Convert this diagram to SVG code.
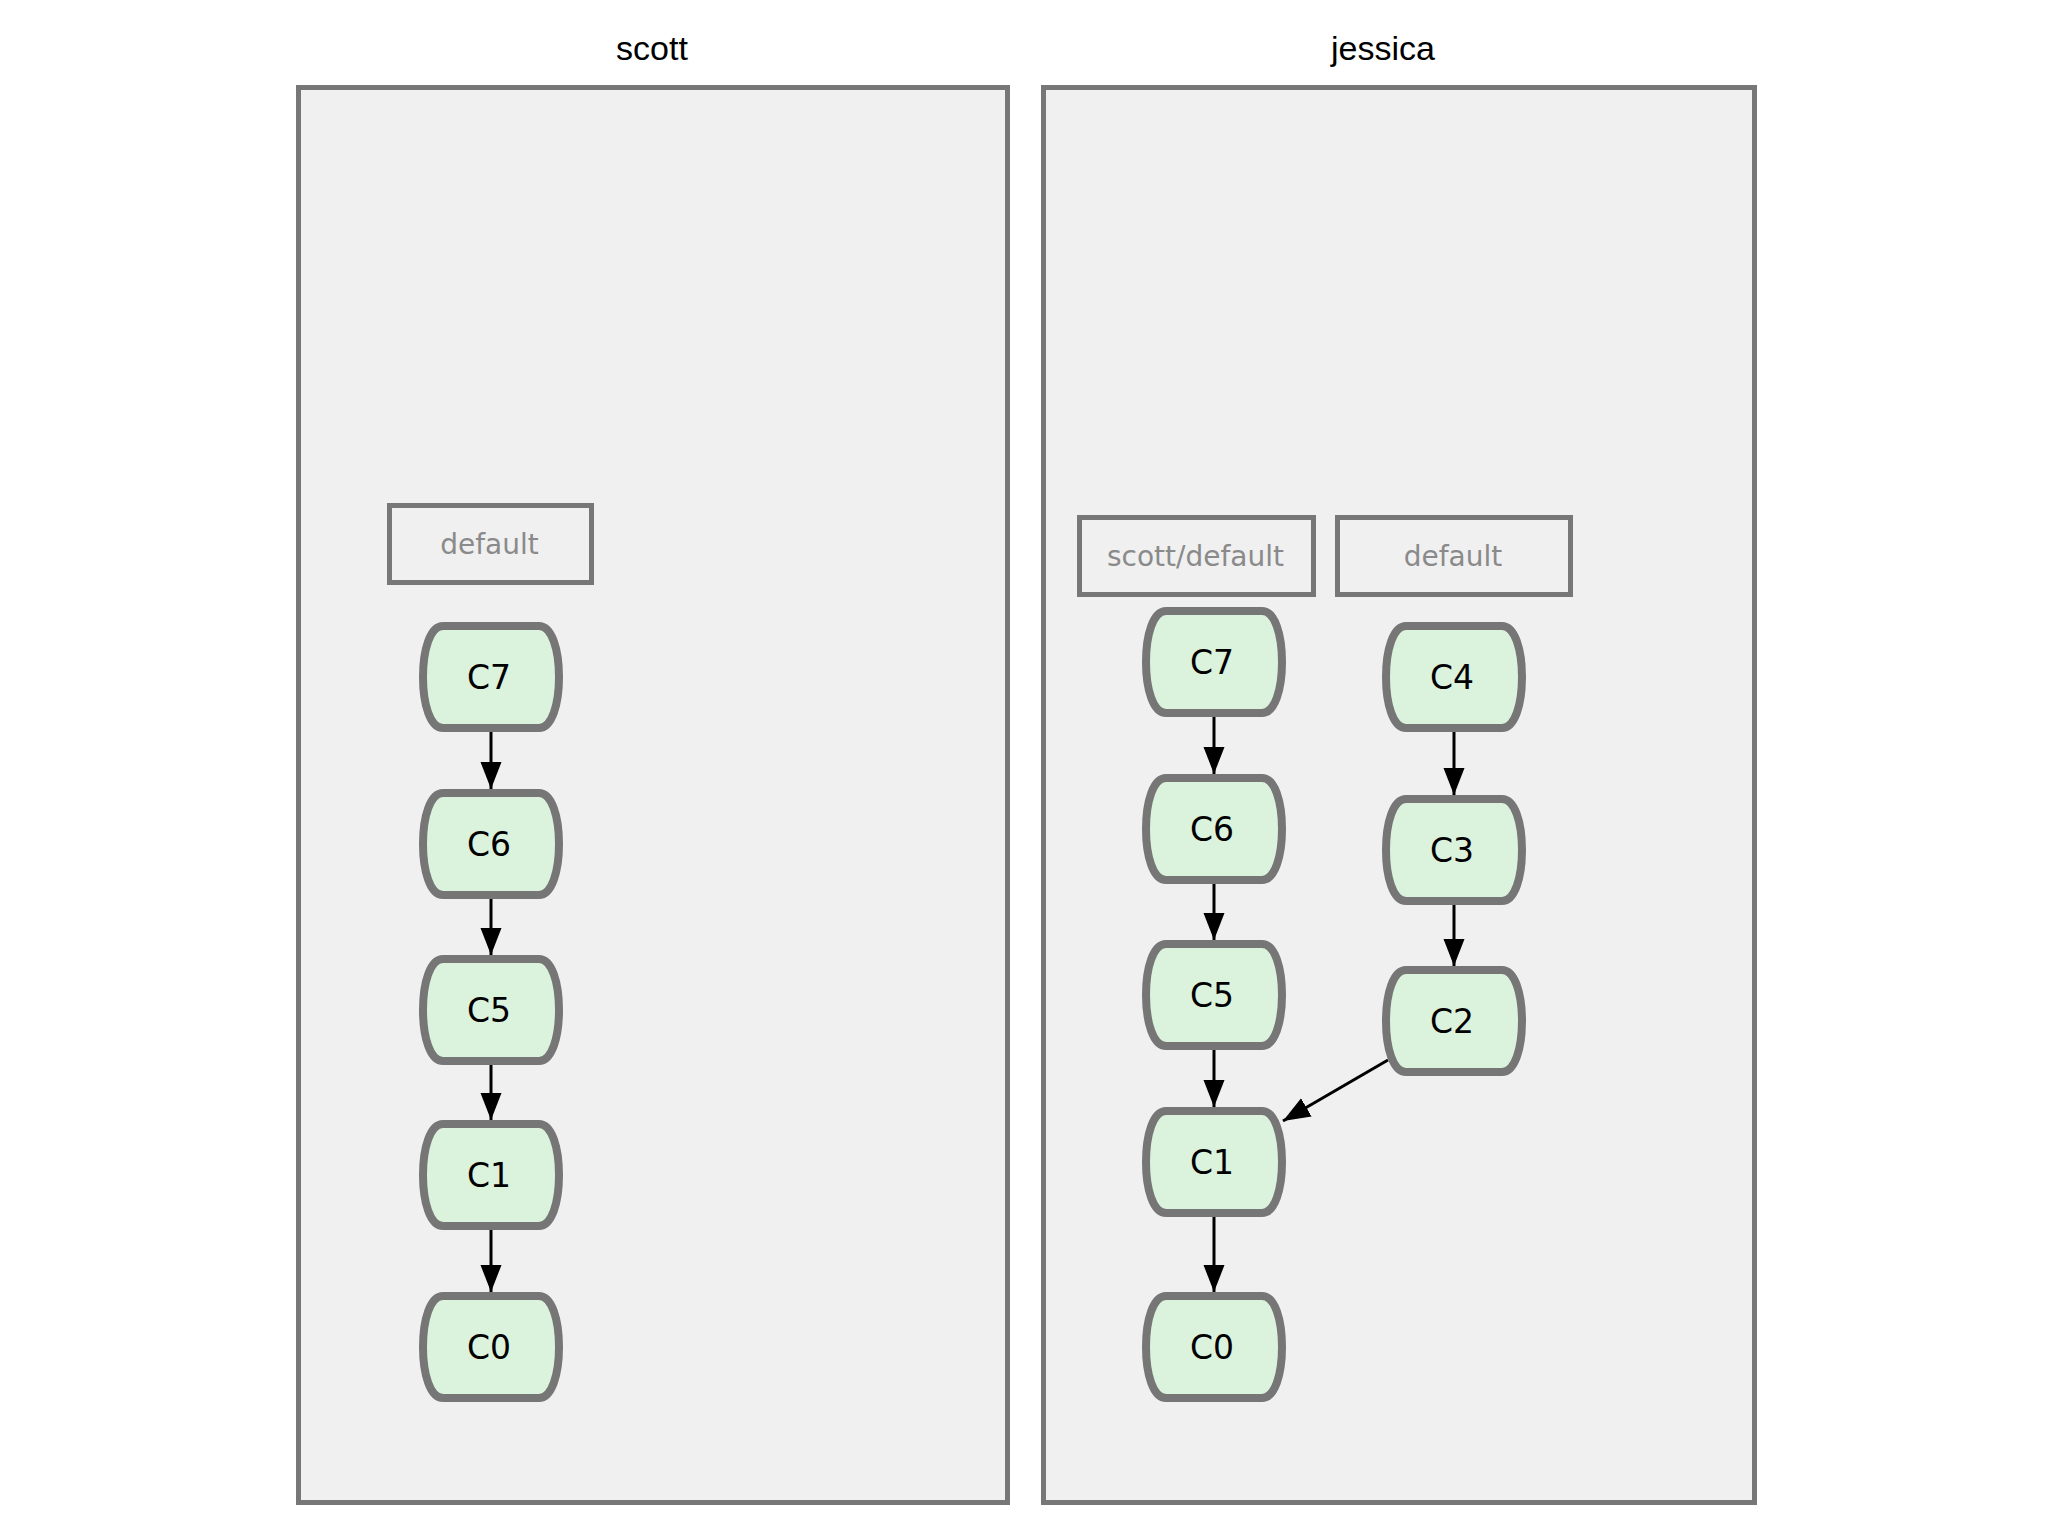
<svg xmlns="http://www.w3.org/2000/svg" width="2048" height="1536" viewBox="0 0 2048 1536">
<style>
.repo{fill:#f0f0f1;stroke:#777;stroke-width:5}
.title{font-family:"Liberation Sans",Arial,sans-serif;font-size:34px;fill:#000;text-anchor:middle}
.ref rect{fill:none;stroke:#777;stroke-width:5}
.ref text{font-family:"DejaVu Sans",sans-serif;font-size:28px;fill:#8a8a8a;text-anchor:middle}
.commit use{fill:#dbf2dc;stroke:#767676;stroke-width:8}
.commit text{font-family:"DejaVu Sans",sans-serif;font-size:33px;fill:#000;text-anchor:middle}
.edge{stroke:#000;stroke-width:3;fill:none;marker-end:url(#arr)}
</style>
<defs>
<marker id="arr" markerUnits="userSpaceOnUse" markerWidth="28" markerHeight="22" refX="27" refY="10.5" orient="auto">
<path d="M0,0 L27,10.5 L0,21 z" fill="#000"/>
</marker>
<path id="shape" d="M-48,-51 H48 C61,-51 68,-27 68,0 C68,27 61,51 48,51 H-48 C-61,51 -68,27 -68,0 C-68,-27 -61,-51 -48,-51 Z"/>
</defs>
<rect width="2048" height="1536" fill="#fff"/>

<g id="repo-scott">
<rect class="repo" x="298.5" y="87.5" width="709" height="1415"/>
<text class="title" x="652" y="60">scott</text>
</g>
<g id="repo-jessica">
<rect class="repo" x="1043.5" y="87.5" width="711" height="1415"/>
<text class="title" x="1383" y="60">jessica</text>
</g>

<g id="connectors">
<line class="edge" x1="491" y1="732" x2="491" y2="789"/>
<line class="edge" x1="491" y1="899" x2="491" y2="955"/>
<line class="edge" x1="491" y1="1065" x2="491" y2="1120"/>
<line class="edge" x1="491" y1="1230" x2="491" y2="1292"/>
<line class="edge" x1="1214" y1="717" x2="1214" y2="774"/>
<line class="edge" x1="1214" y1="884" x2="1214" y2="940"/>
<line class="edge" x1="1214" y1="1050" x2="1214" y2="1107"/>
<line class="edge" x1="1214" y1="1217" x2="1214" y2="1292"/>
<line class="edge" x1="1454" y1="732" x2="1454" y2="795"/>
<line class="edge" x1="1454" y1="905" x2="1454" y2="966"/>
<line class="edge" x1="1388" y1="1060" x2="1283" y2="1121"/>
</g>

<g id="scott-default" class="ref"><rect x="389.5" y="505.5" width="202" height="77"/><text x="489.5" y="554">default</text></g>
<g id="scott-C7" class="commit" transform="translate(491,677)"><use href="#shape"/><text x="-2" y="12">C7</text></g>
<g id="scott-C6" class="commit" transform="translate(491,844)"><use href="#shape"/><text x="-2" y="12">C6</text></g>
<g id="scott-C5" class="commit" transform="translate(491,1010)"><use href="#shape"/><text x="-2" y="12">C5</text></g>
<g id="scott-C1" class="commit" transform="translate(491,1175)"><use href="#shape"/><text x="-2" y="12">C1</text></g>
<g id="scott-C0" class="commit" transform="translate(491,1347)"><use href="#shape"/><text x="-2" y="12">C0</text></g>

<g id="jessica-scott-default" class="ref"><rect x="1079.5" y="517.5" width="234" height="77"/><text x="1195.5" y="566">scott/default</text></g>
<g id="jessica-default" class="ref"><rect x="1337.5" y="517.5" width="233" height="77"/><text x="1453" y="566">default</text></g>
<g id="jessica-C7" class="commit" transform="translate(1214,662)"><use href="#shape"/><text x="-2" y="12">C7</text></g>
<g id="jessica-C6" class="commit" transform="translate(1214,829)"><use href="#shape"/><text x="-2" y="12">C6</text></g>
<g id="jessica-C5" class="commit" transform="translate(1214,995)"><use href="#shape"/><text x="-2" y="12">C5</text></g>
<g id="jessica-C1" class="commit" transform="translate(1214,1162)"><use href="#shape"/><text x="-2" y="12">C1</text></g>
<g id="jessica-C0" class="commit" transform="translate(1214,1347)"><use href="#shape"/><text x="-2" y="12">C0</text></g>
<g id="jessica-C4" class="commit" transform="translate(1454,677)"><use href="#shape"/><text x="-2" y="12">C4</text></g>
<g id="jessica-C3" class="commit" transform="translate(1454,850)"><use href="#shape"/><text x="-2" y="12">C3</text></g>
<g id="jessica-C2" class="commit" transform="translate(1454,1021)"><use href="#shape"/><text x="-2" y="12">C2</text></g>
</svg>
